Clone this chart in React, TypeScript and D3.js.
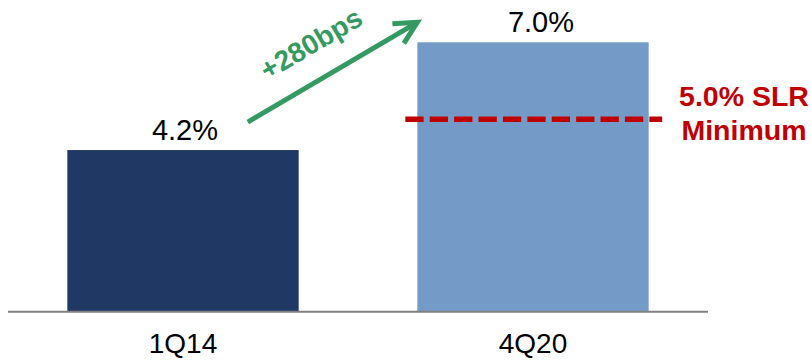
import React from "react";
import * as d3 from "d3";

// Supplementary leverage ratio, two periods
const periods = ["1Q14", "4Q20"];
const slrValues = [4.2, 7.0];
const valueLabels = ["4.2%", "7.0%"];
const barColors = ["#1F3864", "#749BC7"];
const minimumSlr = 5.0;
const minimumLabel = ["5.0% SLR", "Minimum"];
const changeLabel = "+280bps";

const W = 811;
const H = 360;
const baseY = 311.7;
const topY = 42.3;
const FONT = "'Liberation Sans', Arial, Helvetica, sans-serif";

export default function App() {
  const x = d3
    .scaleBand<string>()
    .domain(periods)
    .range([8, 708])
    .paddingInner(0.339)
    .paddingOuter(0.1695);

  const y = d3.scaleLinear().domain([0, 7.0]).range([baseY, topY]);

  const bw = x.bandwidth();
  const labelDx = [2, 8];

  // growth arrow between the two bars
  const x0 = (x(periods[0]) ?? 0) + bw * 0.78;
  const y0 = y(slrValues[0]) - 28;
  const x1 = x(periods[1]) ?? 0;
  const y1 = y(slrValues[1]) - 20;
  const ang = Math.atan2(y1 - y0, x1 - x0);
  const headLen = 25;
  const headSpread = (27 * Math.PI) / 180;
  const back = ang + Math.PI;
  const h1 = [x1 + headLen * Math.cos(back - headSpread), y1 + headLen * Math.sin(back - headSpread)];
  const h2 = [x1 + headLen * Math.cos(back + headSpread), y1 + headLen * Math.sin(back + headSpread)];
  const angDeg = (ang * 180) / Math.PI;
  const green = "#359A62";

  // minimum requirement line across the second bar
  const lineY = y(minimumSlr);
  const lx0 = (x(periods[1]) ?? 0) - 12;
  const lx1 = (x(periods[1]) ?? 0) + bw + 13.5;

  return (
    <svg
      width={W}
      height={H}
      style={{ position: "absolute", left: 0, top: 0, background: "#fff" }}
      fontFamily={FONT}
    >
      {periods.map((p, i) => (
        <rect
          key={p}
          x={x(p)}
          y={y(slrValues[i])}
          width={bw}
          height={baseY - y(slrValues[i])}
          fill={barColors[i]}
        />
      ))}
      <line x1={8} x2={708} y1={baseY} y2={baseY} stroke="#808080" strokeWidth={2} />

      {periods.map((p, i) => (
        <text
          key={"v" + p}
          x={(x(p) ?? 0) + bw / 2 + labelDx[i]}
          y={y(slrValues[i]) - 10}
          textAnchor="middle"
          fontSize={29}
          fill="#000"
        >
          {valueLabels[i]}
        </text>
      ))}

      {periods.map((p) => (
        <text
          key={"c" + p}
          x={(x(p) ?? 0) + bw / 2}
          y={353}
          textAnchor="middle"
          fontSize={28}
          fill="#000"
        >
          {p}
        </text>
      ))}

      <line
        x1={lx0}
        x2={lx1}
        y1={lineY}
        y2={lineY}
        stroke="#C00000"
        strokeWidth={5.5}
        strokeDasharray="18.3 6.1"
      />
      {minimumLabel.map((t, i) => (
        <text
          key={t}
          x={744}
          y={106 + i * 34}
          textAnchor="middle"
          fontSize={28.5}
          fontWeight="bold"
          fill="#C00000"
        >
          {t}
        </text>
      ))}

      <line x1={x0} y1={y0} x2={x1} y2={y1} stroke={green} strokeWidth={5} strokeLinecap="butt" />
      <polyline
        points={`${h1[0]},${h1[1]} ${x1},${y1} ${h2[0]},${h2[1]}`}
        fill="none"
        stroke={green}
        strokeWidth={5}
        strokeLinejoin="miter"
      />
      <text
        x={316}
        y={52}
        transform={`rotate(${angDeg} 316 52)`}
        textAnchor="middle"
        fontSize={28}
        fontWeight="bold"
        fill={green}
      >
        {changeLabel}
      </text>
    </svg>
  );
}
